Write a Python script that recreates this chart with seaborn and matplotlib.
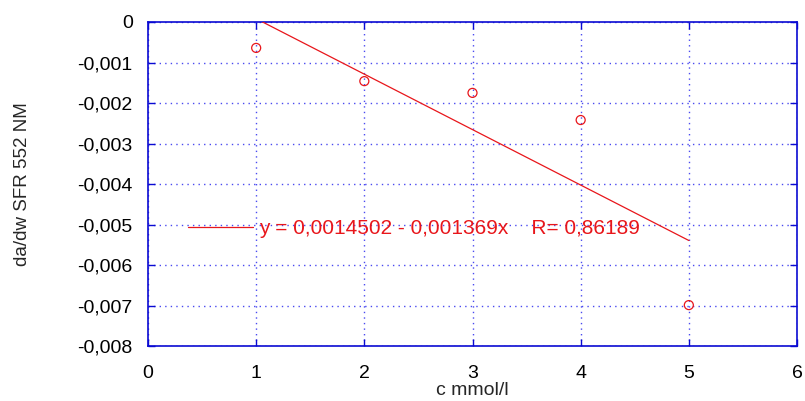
import matplotlib
matplotlib.use("Agg")
import matplotlib.pyplot as plt
from matplotlib.ticker import FuncFormatter, MultipleLocator
import numpy as np
import pandas as pd
import seaborn as sns

# measured values
conc = [1, 2, 3, 4, 5]
dadw = [-0.00064, -0.00146, -0.00175, -0.00242, -0.00699]

# linear fit reported in the legend
intercept = 0.0014502
slope = -0.001369
r_value = 0.86189
fit_label = "y = 0,0014502 - 0,001369x    R= 0,86189"

x_label = "c mmol/l"
y_label = "da/dw SFR 552 NM"

sns.set_theme(style="white")
plt.rcParams["font.family"] = ["Liberation Sans", "DejaVu Sans"]

fig = plt.figure(figsize=(8.05, 4.01), dpi=100)
ax = fig.add_axes([148 / 805, 1 - 346 / 401, (797 - 148) / 805, (346 - 22) / 401])

points = pd.DataFrame({"c": conc, "dadw": dadw})
fit_x = np.array([conc[0], conc[-1]], dtype=float)
fit = pd.DataFrame({"c": fit_x, "dadw": intercept + slope * fit_x})

sns.lineplot(data=fit, x="c", y="dadw", ax=ax, color="#e8161b", linewidth=0.9,
             label=fit_label, zorder=3)
sns.scatterplot(data=points, x="c", y="dadw", ax=ax, marker="o", s=42,
                facecolor="none", edgecolor="#e8161b", linewidth=0.9,
                zorder=4, legend=False)

ax.set_xlim(0, 6)
ax.set_ylim(-0.008, 0)
ax.xaxis.set_major_locator(MultipleLocator(1))
ax.yaxis.set_major_locator(MultipleLocator(0.001))


def comma_fmt(v, pos):
    if abs(v) < 1e-12:
        return "0"
    return f"{v:.3f}".replace(".", ",")


ax.yaxis.set_major_formatter(FuncFormatter(comma_fmt))
ax.xaxis.set_major_formatter(FuncFormatter(lambda v, p: f"{v:.0f}"))

blue = "#0a0ad2"
ax.grid(True, color="#4a4af0", linestyle=(0, (1, 3)), linewidth=1.0)
for s in ax.spines.values():
    s.set_color(blue)
    s.set_linewidth(1.2)

ax.tick_params(axis="both", which="major", direction="in", length=5,
               color=blue, width=1.0, labelsize=14, labelcolor="black",
               top=True, right=True, bottom=True, left=True)
ax.tick_params(axis="x", pad=14)
ax.tick_params(axis="y", pad=11)

ax.set_xlabel(x_label, fontsize=14)
ax.xaxis.set_label_coords(0.5, -0.11)
ax.set_ylabel(y_label, fontsize=13.5)
ax.yaxis.set_label_coords(-0.18, 0.5)

leg = ax.legend(loc="center left", bbox_to_anchor=((188 - 148) / 649, (346 - 229) / 324),
                frameon=False, fontsize=15, handlelength=3.1, handletextpad=0.3,
                borderpad=0, borderaxespad=0)
for t in leg.get_texts():
    t.set_color("#e8161b")

fig.savefig("out.png", dpi=100, facecolor="white")
